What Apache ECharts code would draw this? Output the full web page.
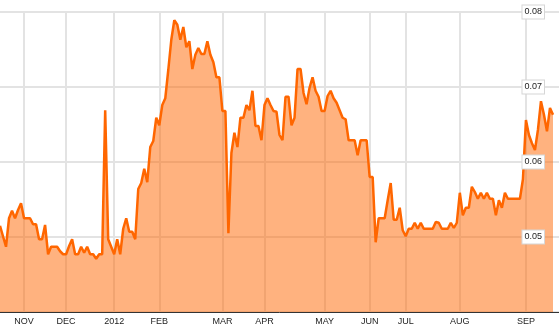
<!DOCTYPE html>
<html>
<head>
<meta charset="utf-8">
<script src="https://cdn.jsdelivr.net/npm/echarts@6/dist/echarts.min.js"></script>
<style>
html,body{margin:0;padding:0;background:#fff;}
#chart{width:559px;height:327px;}
</style>
</head>
<body>
<div id="chart"></div>
<script>
// Month tick labels and the trading-day index where each month starts
const monthLabels = ['NOV','DEC','2012','FEB','MAR','APR','MAY','JUN','JUL','AUG','SEP'];
const monthIndex = [8,22,38,53,74,88,108,123,135,153,175];

// Daily values (yield), one per trading day
const values = [
  0.0515,0.0501,0.0487,0.0525,0.0535,0.0525,0.0536,0.0545,0.0525,0.0525,
  0.0525,0.0517,0.0517,0.0497,0.0497,0.0516,0.0477,0.0487,0.0487,0.0487,
  0.0481,0.0477,0.0477,0.0488,0.0497,0.0477,0.0477,0.0487,0.0479,0.0487,
  0.0477,0.0477,0.0471,0.0477,0.0477,0.0669,0.0497,0.0487,0.0477,0.0497,
  0.0477,0.0511,0.0525,0.0507,0.0507,0.0497,0.0564,0.0572,0.0591,0.0573,
  0.0620,0.0628,0.0659,0.0649,0.0676,0.0685,0.0723,0.0763,0.0789,0.0783,
  0.0763,0.0780,0.0753,0.0761,0.0724,0.0743,0.0752,0.0744,0.0744,0.0761,
  0.0743,0.0733,0.0713,0.0713,0.0668,0.0668,0.0505,0.0612,0.0639,0.0620,
  0.0659,0.0659,0.0676,0.0669,0.0695,0.0648,0.0648,0.0629,0.0676,0.0685,
  0.0676,0.0668,0.0667,0.0636,0.0629,0.0687,0.0687,0.0649,0.0659,0.0724,
  0.0724,0.0692,0.0677,0.0699,0.0713,0.0695,0.0687,0.0668,0.0668,0.0688,
  0.0695,0.0685,0.0679,0.0669,0.0659,0.0657,0.0629,0.0629,0.0629,0.0609,
  0.0629,0.0629,0.0629,0.0580,0.0580,0.0493,0.0525,0.0525,0.0525,0.0549,
  0.0572,0.0523,0.0523,0.0539,0.0509,0.0501,0.0511,0.0511,0.0519,0.0511,
  0.0519,0.0511,0.0511,0.0511,0.0511,0.0520,0.0519,0.0511,0.0511,0.0511,
  0.0519,0.0512,0.0519,0.0559,0.0529,0.0539,0.0539,0.0567,0.0560,0.0551,
  0.0559,0.0551,0.0559,0.0551,0.0551,0.0529,0.0549,0.0539,0.0559,0.0551,
  0.0551,0.0551,0.0551,0.0551,0.0577,0.0656,0.0636,0.0625,0.0616,0.0643,
  0.0681,0.0663,0.0641,0.0672,0.0663
];
const trailingEmptyDays = 2;

// y-axis ticks
const yMin = 0.04, yMax = 0.08, yStep = 0.01;

const seriesData = values.concat(new Array(trailingEmptyDays).fill(null));
const categories = seriesData.map((_, i) => {
  const k = monthIndex.indexOf(i);
  return k >= 0 ? monthLabels[k] : '';
});
const isMonth = (i) => monthIndex.indexOf(i) >= 0;

const chart = echarts.init(document.getElementById('chart'), null, {renderer: 'canvas'});
chart.setOption({
  animation: false,
  backgroundColor: '#fff',
  grid: {left: 0, right: 0, top: 12, bottom: 15, containLabel: false},
  xAxis: {
    type: 'category',
    data: categories,
    boundaryGap: false,
    axisLine: {show: true, lineStyle: {color: '#333', width: 1}},
    axisTick: {show: false},
    axisLabel: {
      interval: (i) => isMonth(i),
      margin: 5,
      fontFamily: 'Liberation Sans, Arial, sans-serif',
      fontSize: 9,
      color: '#222'
    },
    splitLine: {
      show: true,
      interval: (i) => isMonth(i),
      lineStyle: {color: '#e3e3e3', width: 2}
    }
  },
  yAxis: [
    {
      type: 'value',
      min: yMin, max: yMax, interval: yStep,
      axisLine: {show: false},
      axisTick: {show: false},
      axisLabel: {show: false},
      splitLine: {show: true, lineStyle: {color: '#e3e3e3', width: 2}}
    },
    {
      type: 'value',
      position: 'right',
      z: 10,
      min: yMin, max: yMax, interval: yStep,
      axisLine: {show: false},
      axisTick: {show: false},
      splitLine: {show: false},
      axisLabel: {
        inside: true,
        showMinLabel: false,
        margin: 15,
        formatter: (v) => v.toFixed(2),
        fontFamily: 'Liberation Sans, Arial, sans-serif',
        fontSize: 9,
        color: '#222',
        backgroundColor: '#fff',
        borderColor: '#d6d6d6',
        borderWidth: 1,
        padding: [2, 2, 1, 2],
        lineHeight: 10
      }
    }
  ],
  series: [{
    type: 'line',
    yAxisIndex: 0,
    data: seriesData,
    showSymbol: false,
    symbol: 'none',
    lineStyle: {color: '#ff6600', width: 2.5},
    areaStyle: {color: '#ff6600', opacity: 0.5},
    z: 2
  }]
});
</script>
</body>
</html>
